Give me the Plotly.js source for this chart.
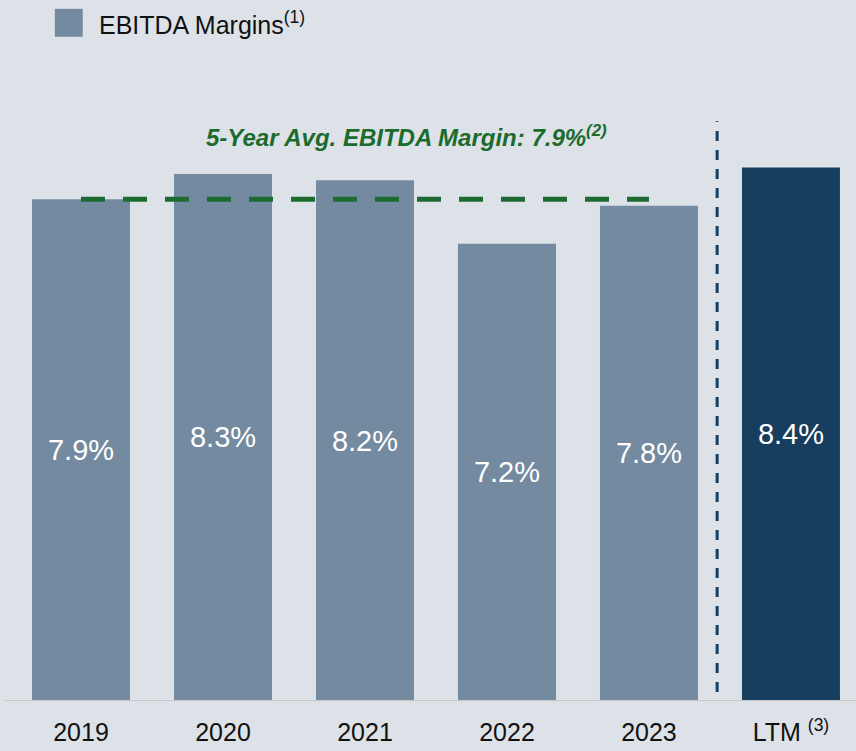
<!DOCTYPE html>
<html><head><meta charset="utf-8">
<script src="https://cdn.plot.ly/plotly-3.0.1.min.js"></script>
<style>html,body{margin:0;padding:0;background:#dde2e9;}#chart{width:856px;height:751px;}</style>
</head><body><div id="chart"></div>
<script>
const categories = ["2019","2020","2021","2022","2023","LTM <sup>(3)</sup>"];
const margins = [7.9, 8.3, 8.2, 7.2, 7.8, 8.4];
const labels = ["7.9%","8.3%","8.2%","7.2%","7.8%","8.4%"];
const avgMargin = 7.9;
const barColors = ["#738aa0","#738aa0","#738aa0","#738aa0","#738aa0","#173d5f"];

const trace = {
  type: "bar",
  x: categories,
  y: margins,
  text: labels,
  textposition: "inside",
  insidetextanchor: "middle",
  textangle: 0,
  textfont: {family: "Liberation Sans, Arial, sans-serif", size: 29, color: "#ffffff"},
  marker: {color: barColors, line: {width: 0}},
  width: 0.69,
  hoverinfo: "none",
  showlegend: false
};

const layout = {
  width: 856, height: 751,
  paper_bgcolor: "#dde2e9",
  plot_bgcolor: "#dde2e9",
  margin: {l: 10, r: 0, t: 66, b: 50},
  font: {family: "Liberation Sans, Arial, sans-serif", color: "#111111"},
  xaxis: {
    type: "category",
    range: [-0.5, 5.458],
    showgrid: false, zeroline: false, showline: false,
    ticks: "", ticklen: 0,
    tickfont: {family: "Liberation Sans, Arial, sans-serif", size: 25, color: "#111111"},
    ticklabelstandoff: 14,
    automargin: false
  },
  yaxis: {
    range: [0, 10], visible: false, showgrid: false, zeroline: false, fixedrange: true
  },
  bargap: 0.31,
  shapes: [
    {type: "line", xref: "paper", yref: "y", x0: -0.006, x1: 1, y0: 0, y1: 0,
     line: {color: "#c9c5be", width: 2}, layer: "above"},
    {type: "line", xref: "x", yref: "y", x0: 0, x1: 4, y0: avgMargin, y1: avgMargin,
     line: {color: "#1e6b32", width: 5, dash: "24px,18px"}, layer: "above"},
    {type: "line", xref: "x", yref: "paper", x0: 4.48, x1: 4.48, y0: 0.014, y1: 0.913,
     line: {color: "#173d5f", width: 3, dash: "10px,9px"}, layer: "above"},
    {type: "rect", xref: "paper", yref: "paper", x0: 0.053, x1: 0.086, y0: 1.046, y1: 1.09,
     fillcolor: "#738aa0", line: {width: 0}}
  ],
  annotations: [
    {xref: "paper", yref: "paper", x: 0.103, y: 1.068, xanchor: "left", yanchor: "middle",
     text: "EBITDA Margins<sup>(1)</sup>", showarrow: false,
     font: {size: 25, color: "#111111"}},
    {xref: "x", yref: "paper", x: 2.29, y: 0.89, xanchor: "center", yanchor: "middle",
     text: "<b><i>5-Year Avg. EBITDA Margin: 7.9%<sup>(2)</sup></i></b>", showarrow: false,
     font: {size: 24, color: "#1a6b2c"}}
  ]
};

Plotly.newPlot("chart", [trace], layout, {displayModeBar: false, staticPlot: true});
</script></body></html>
